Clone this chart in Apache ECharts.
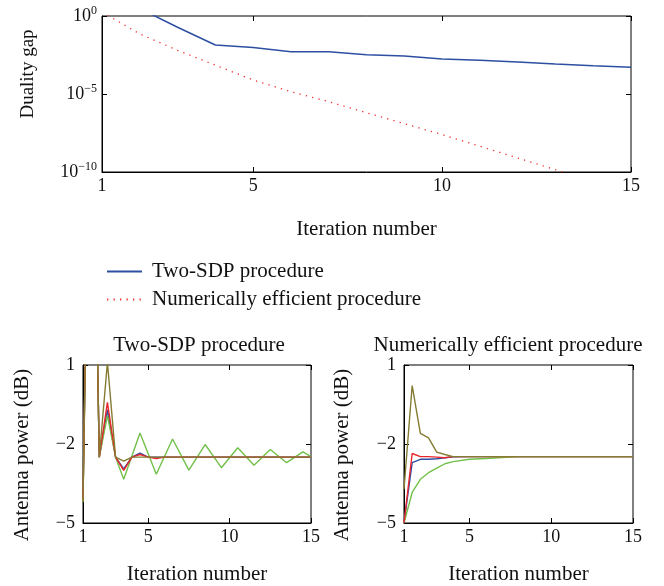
<!DOCTYPE html>
<html>
<head>
<meta charset="utf-8">
<script src="https://cdn.jsdelivr.net/npm/echarts@6/dist/echarts.min.js"></script>
<style>
  html, body { margin: 0; padding: 0; background: #fff; }
  #chart { width: 664px; height: 586px; }
</style>
</head>
<body>
<div id="chart"></div>
<script>
// top: duality gap per iteration
var iterations = [1, 2, 3, 4, 5, 6, 7, 8, 9, 10, 11, 12, 13, 14, 15];
var gapTwoSdp = [null, 3.0, 0.19, 0.0138, 0.0095, 5.2e-3, 5.2e-3, 3.3e-3, 2.75e-3, 1.74e-3, 1.45e-3, 1.12e-3, 8.3e-4, 6.4e-4, 5.1e-4];
var gapEfficient = [1.8, 7.1e-2, 6.3e-3, 7.1e-4, 7.9e-5, 1.4e-5, 3.2e-6, 6.3e-7, 1.26e-7, 2.5e-8, 4.5e-9, 7.9e-10, 1.4e-10, 2.5e-11, 5e-12];

// bottom left: Two-SDP procedure, antenna power (dB)
var halfSteps = [1, 1.5, 2, 2.5, 3, 3.5, 4, 4.5, 5, 5.5, 6, 6.5, 7, 7.5, 8, 8.5, 9, 9.5, 10, 10.5, 11, 11.5, 12, 12.5, 13, 13.5, 14, 14.5, 15];
var sdpBlue  = [-4.0, 15, -2.5, -0.7, -2.5, -2.95, -2.5, -2.35, -2.5, -2.5, -2.5, -2.5, -2.5, -2.5, -2.5, -2.5, -2.5, -2.5, -2.5, -2.5, -2.5, -2.5, -2.5, -2.5, -2.5, -2.5, -2.5, -2.5, -2.5];
var sdpRed   = [-4.1, 15, -2.5, -0.42, -2.5, -3.0, -2.5, -2.4, -2.5, -2.55, -2.5, -2.5, -2.5, -2.5, -2.5, -2.5, -2.5, -2.5, -2.5, -2.5, -2.5, -2.5, -2.5, -2.5, -2.5, -2.5, -2.5, -2.5, -2.5];
var sdpGreen = [-4.2, 15, -2.5, -0.92, -2.5, -3.34, null, -1.58, null, -3.15, null, -1.81, null, -2.99, null, -2.02, null, -2.9, null, -2.14, null, -2.81, null, -2.21, null, -2.71, null, -2.3, -2.48];
var sdpOlive = [-4.2, 15, -2.5, 1.1, -2.5, -2.65, -2.5, -2.5, -2.5, -2.5, -2.5, -2.5, -2.5, -2.5, -2.5, -2.5, -2.5, -2.5, -2.5, -2.5, -2.5, -2.5, -2.5, -2.5, -2.5, -2.5, -2.5, -2.5, -2.5];

// bottom right: numerically efficient procedure
var effSteps = [1, 1.5, 2, 2.5, 3, 3.5, 4, 5, 6, 7, 8, 9, 10, 11, 12, 13, 14, 15];
var effBlue  = [-5, -2.71, -2.58, -2.58, -2.56, -2.52, -2.49, -2.48, -2.48, -2.48, -2.48, -2.48, -2.48, -2.48, -2.48, -2.48, -2.48, -2.48];
var effRed   = [-5, -2.36, -2.48, -2.48, -2.5, -2.52, -2.48, -2.48, -2.48, -2.48, -2.48, -2.48, -2.48, -2.48, -2.48, -2.48, -2.48, -2.48];
var effGreen = [-5, -3.84, -3.34, -3.09, -2.92, -2.75, -2.67, -2.58, -2.55, -2.51, -2.48, -2.48, -2.48, -2.48, -2.48, -2.48, -2.48, -2.48];
var effOlive = [-3.72, 0.22, -1.6, -1.77, -2.31, -2.4, -2.48, -2.48, -2.48, -2.48, -2.48, -2.48, -2.48, -2.48, -2.48, -2.48, -2.48, -2.48];

var xTickValues = [1, 5, 10, 15];

var FONT = 'Liberation Serif';
var BIG = 21;   // titles, axis names, legend
var TICK = 18;  // tick labels
var BLUE = '#2d4fa2', RED = '#e8262b', GREEN = '#72c04a', OLIVE = '#857b32';

function pairs(xs, ys) {
  return xs.map(function (x, i) { return [x, ys[i]]; });
}

function minus(v) { return String(v).replace('-', '\u2212'); }

function xAxisFor(grid, pos, withLabels, name, nameGap) {
  return {
    type: 'value', gridIndex: grid, position: pos, min: 1, max: 15,
    name: withLabels ? name : '', nameLocation: 'middle', nameGap: nameGap,
    nameTextStyle: { fontFamily: FONT, fontSize: BIG, color: '#111' },
    axisLine: { show: withLabels, onZero: false, lineStyle: { color: '#000', width: 1 } },
    axisTick: { inside: true, length: 5, customValues: xTickValues, lineStyle: { color: '#000' } },
    axisLabel: { show: withLabels, customValues: xTickValues, margin: 5, fontFamily: FONT, fontSize: TICK, color: '#111' },
    splitLine: { show: false }
  };
}

function yPowerAxis(grid, pos, withLabels) {
  return {
    type: 'value', gridIndex: grid, position: pos, min: -5, max: 1, interval: 3,
    axisLine: { show: withLabels, onZero: false, lineStyle: { color: '#000', width: 1 } },
    axisTick: { inside: true, length: 5, lineStyle: { color: '#000' } },
    axisLabel: { show: withLabels, margin: 8, fontFamily: FONT, fontSize: TICK, color: '#111', formatter: minus },
    splitLine: { show: false }
  };
}

function logLabel(v) {
  var e = Math.round(Math.log(v) / Math.LN10);
  return '10{sup|' + minus(e) + '}';
}

function yGapAxis(pos, withLabels) {
  return {
    type: 'log', logBase: 10, gridIndex: 0, position: pos, min: 1e-10, max: 1, interval: 5,
    axisLine: { show: withLabels, onZero: false, lineStyle: { color: '#000', width: 1 } },
    axisTick: { inside: true, length: 5, lineStyle: { color: '#000' } },
    axisLabel: {
      show: withLabels, margin: 5, formatter: logLabel,
      fontFamily: FONT, fontSize: TICK, color: '#111',
      rich: { sup: { fontFamily: FONT, fontSize: 12, color: '#111', verticalAlign: 'top', padding: [0, 0, 10, 0] } }
    },
    splitLine: { show: false }
  };
}

function powerLine(name, xi, yi, xs, ys, color) {
  return {
    name: name, type: 'line', xAxisIndex: xi, yAxisIndex: yi,
    data: pairs(xs, ys), symbol: 'none', connectNulls: true, clip: true,
    lineStyle: { color: color, width: 1.4 }, itemStyle: { color: color }
  };
}

function label(text, x, y, size, rotated) {
  return {
    type: 'text', x: x, y: y, rotation: rotated ? Math.PI / 2 : 0,
    style: { text: text, fontFamily: FONT, fontSize: size, fill: '#111', textAlign: 'center', textVerticalAlign: 'middle' }
  };
}

var chart = echarts.init(document.getElementById('chart'), null, { renderer: 'canvas' });

var option = {
  backgroundColor: '#fff',
  animation: false,
  grid: [
    { left: 102, top: 16, width: 529, height: 156, show: true, borderColor: '#000', borderWidth: 1 },
    { left: 83, top: 365, width: 228, height: 159, show: true, borderColor: '#000', borderWidth: 1 },
    { left: 404, top: 365, width: 229, height: 159, show: true, borderColor: '#000', borderWidth: 1 }
  ],
  legend: {
    data: ['Two-SDP procedure', 'Numerically efficient procedure'],
    orient: 'vertical', left: 101, top: 256,
    itemWidth: 35, itemHeight: 14, itemGap: 7,
    itemStyle: { opacity: 0 },
    textStyle: { fontFamily: FONT, fontSize: BIG, color: '#111', padding: [0, 0, 0, 5] }
  },
  graphic: [
    label('Two-SDP procedure', 199, 345, BIG, false),
    label('Numerically efficient procedure', 508, 345, BIG, false),
    label('Duality gap', 28, 74, 19, true),
    label('Antenna power (dB)', 22, 455, BIG, true),
    label('Antenna power (dB)', 342, 455, BIG, true)
  ],
  xAxis: [
    xAxisFor(0, 'bottom', true, 'Iteration number', 47),
    xAxisFor(0, 'top', false, '', 0),
    xAxisFor(1, 'bottom', true, 'Iteration number', 41),
    xAxisFor(1, 'top', false, '', 0),
    xAxisFor(2, 'bottom', true, 'Iteration number', 41),
    xAxisFor(2, 'top', false, '', 0)
  ],
  yAxis: [
    yGapAxis('left', true),
    yGapAxis('right', false),
    yPowerAxis(1, 'left', true),
    yPowerAxis(1, 'right', false),
    yPowerAxis(2, 'left', true),
    yPowerAxis(2, 'right', false)
  ],
  series: [
    {
      name: 'Two-SDP procedure', type: 'line', xAxisIndex: 0, yAxisIndex: 0,
      data: pairs(iterations, gapTwoSdp), symbol: 'none', clip: true,
      lineStyle: { color: BLUE, width: 1.5 }, itemStyle: { color: BLUE }
    },
    {
      name: 'Numerically efficient procedure', type: 'line', xAxisIndex: 0, yAxisIndex: 0,
      data: pairs(iterations, gapEfficient), symbol: 'none', clip: true,
      lineStyle: { color: '#f03030', width: 1.3, type: [1.3, 5.2] }, itemStyle: { color: '#f03030' }
    },
    powerLine('sdp-blue', 2, 2, halfSteps, sdpBlue, BLUE),
    powerLine('sdp-green', 2, 2, halfSteps, sdpGreen, GREEN),
    powerLine('sdp-red', 2, 2, halfSteps, sdpRed, RED),
    powerLine('sdp-olive', 2, 2, halfSteps, sdpOlive, OLIVE),
    powerLine('eff-blue', 4, 4, effSteps, effBlue, BLUE),
    powerLine('eff-green', 4, 4, effSteps, effGreen, GREEN),
    powerLine('eff-red', 4, 4, effSteps, effRed, RED),
    powerLine('eff-olive', 4, 4, effSteps, effOlive, OLIVE)
  ]
};

chart.setOption(option);
</script>
</body>
</html>
